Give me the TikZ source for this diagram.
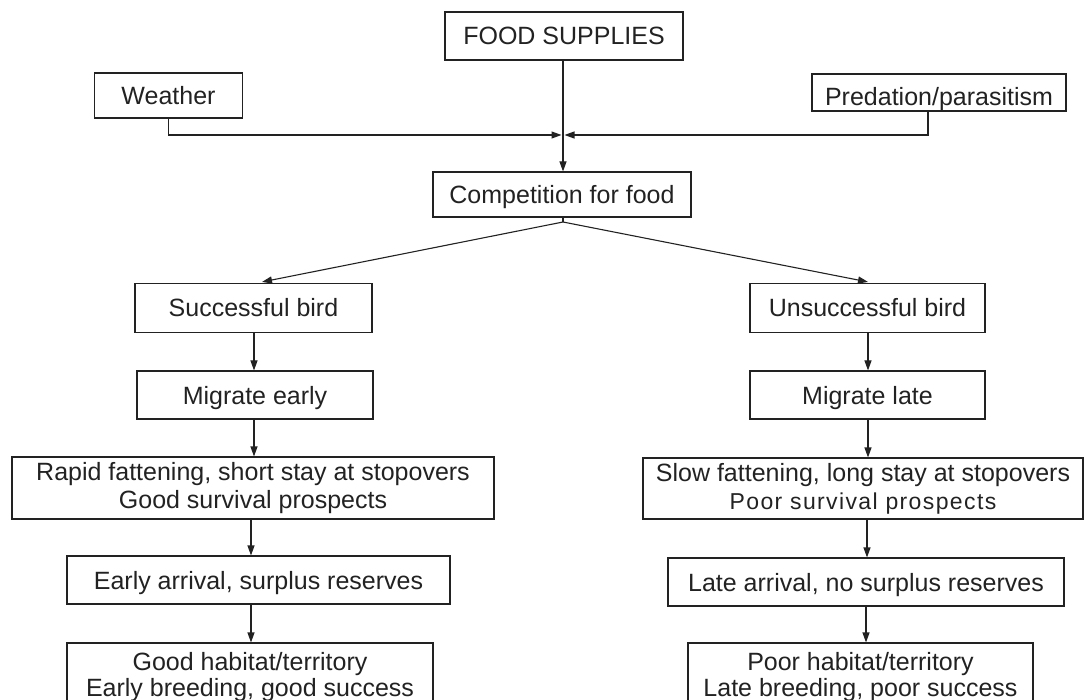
\documentclass[tikz,border=0pt]{standalone}
\usepackage{fontspec}
\setmainfont{Liberation Sans}
\newfontfamily\spacedfont[LetterSpace=6]{Liberation Sans}
\usetikzlibrary{arrows.meta,calc}
\definecolor{ink}{HTML}{222222}
\begin{document}
\begin{tikzpicture}[x=1pt,y=-1pt,
  box/.style={draw=ink,line width=1.1pt,inner sep=0pt,align=center,text=ink,
    font=\fontsize{25}{28}\selectfont},
  one/.style={box,text height=18pt,text depth=0pt},
  arr/.style={draw=ink,line width=1.1pt,-{Triangle[length=10pt,width=7pt]}},
  ln/.style={draw=ink,line width=1.1pt}]
\useasboundingbox (0,0) rectangle (1084,700);
\node[one,minimum width=238pt,minimum height=48pt] (food) at (564,36) {FOOD SUPPLIES};
\node[one,minimum width=148pt,minimum height=45pt] (weather) at (168.5,95.5) {Weather};
\node[box,text height=26pt,text depth=0pt,minimum width=254pt,minimum height=37pt] (pred) at (939,92.5) {Predation/parasitism};
\node[one,minimum width=258pt,minimum height=45pt] (comp) at (562,194.5) {Competition for food};
\node[one,minimum width=237pt,minimum height=49pt] (succ) at (253.5,308) {Successful bird};
\node[one,minimum width=235pt,minimum height=49pt] (unsucc) at (867.5,308) {Unsuccessful bird};
\node[one,minimum width=236pt,minimum height=48pt] (mearly) at (255,395) {Migrate early};
\node[one,minimum width=235pt,minimum height=48pt] (mlate) at (867.5,395) {Migrate late};
\node[box,minimum width=482pt,minimum height=62pt] (rapid) at (253,488) {Rapid fattening, short stay at stopovers\\Good survival prospects};
\node[box,minimum width=440pt,minimum height=61pt] (slow) at (863,488.5) {Slow fattening, long stay at stopovers\\{\spacedfont\fontsize{23}{28}\selectfont Poor survival prospects}};
\node[one,minimum width=383pt,minimum height=48pt] (earr) at (258.5,580) {Early arrival, surplus reserves};
\node[one,minimum width=396pt,minimum height=48pt] (larr) at (866,582) {Late arrival, no surplus reserves};
\node[box,font=\fontsize{25}{26}\selectfont,minimum width=366pt,minimum height=68pt] (good) at (250,677) {Good habitat/territory\\Early breeding, good success};
\node[box,font=\fontsize{25}{26}\selectfont,minimum width=345pt,minimum height=68pt] (poor) at (860.5,677) {Poor habitat/territory\\Late breeding, poor success};
% junction
\coordinate (j) at (563,135);
\coordinate (apex) at (563,222);
\draw[arr] (food.south -| j) -- (comp.north -| j);
\draw[arr] (weather.south) |- ($(j)+(-1.5,0)$);
\draw[arr] (pred.south -| 928,0) |- ($(j)+(1.5,0)$);
% split
\draw[ln] (comp.south -| apex) -- (apex);
\draw[arr] (apex) -- ($(succ.north)+(8.5,-1)$);
\draw[arr] (apex) -- ($(unsucc.north)+(0.5,-1)$);
% left column
\draw[arr] (succ.south -| 254,0) -- (mearly.north -| 254,0);
\draw[arr] (mearly.south -| 254,0) -- (rapid.north -| 254,0);
\draw[arr] (rapid.south -| 251,0) -- (earr.north -| 251,0);
\draw[arr] (earr.south -| 251,0) -- (good.north -| 251,0);
% right column
\draw[arr] (unsucc.south -| 868,0) -- (mlate.north -| 868,0);
\draw[arr] (mlate.south -| 868,0) -- (slow.north -| 868,0);
\draw[arr] (slow.south -| 867,0) -- (larr.north -| 867,0);
\draw[arr] (larr.south -| 866,0) -- (poor.north -| 866,0);
\end{tikzpicture}
\end{document}
